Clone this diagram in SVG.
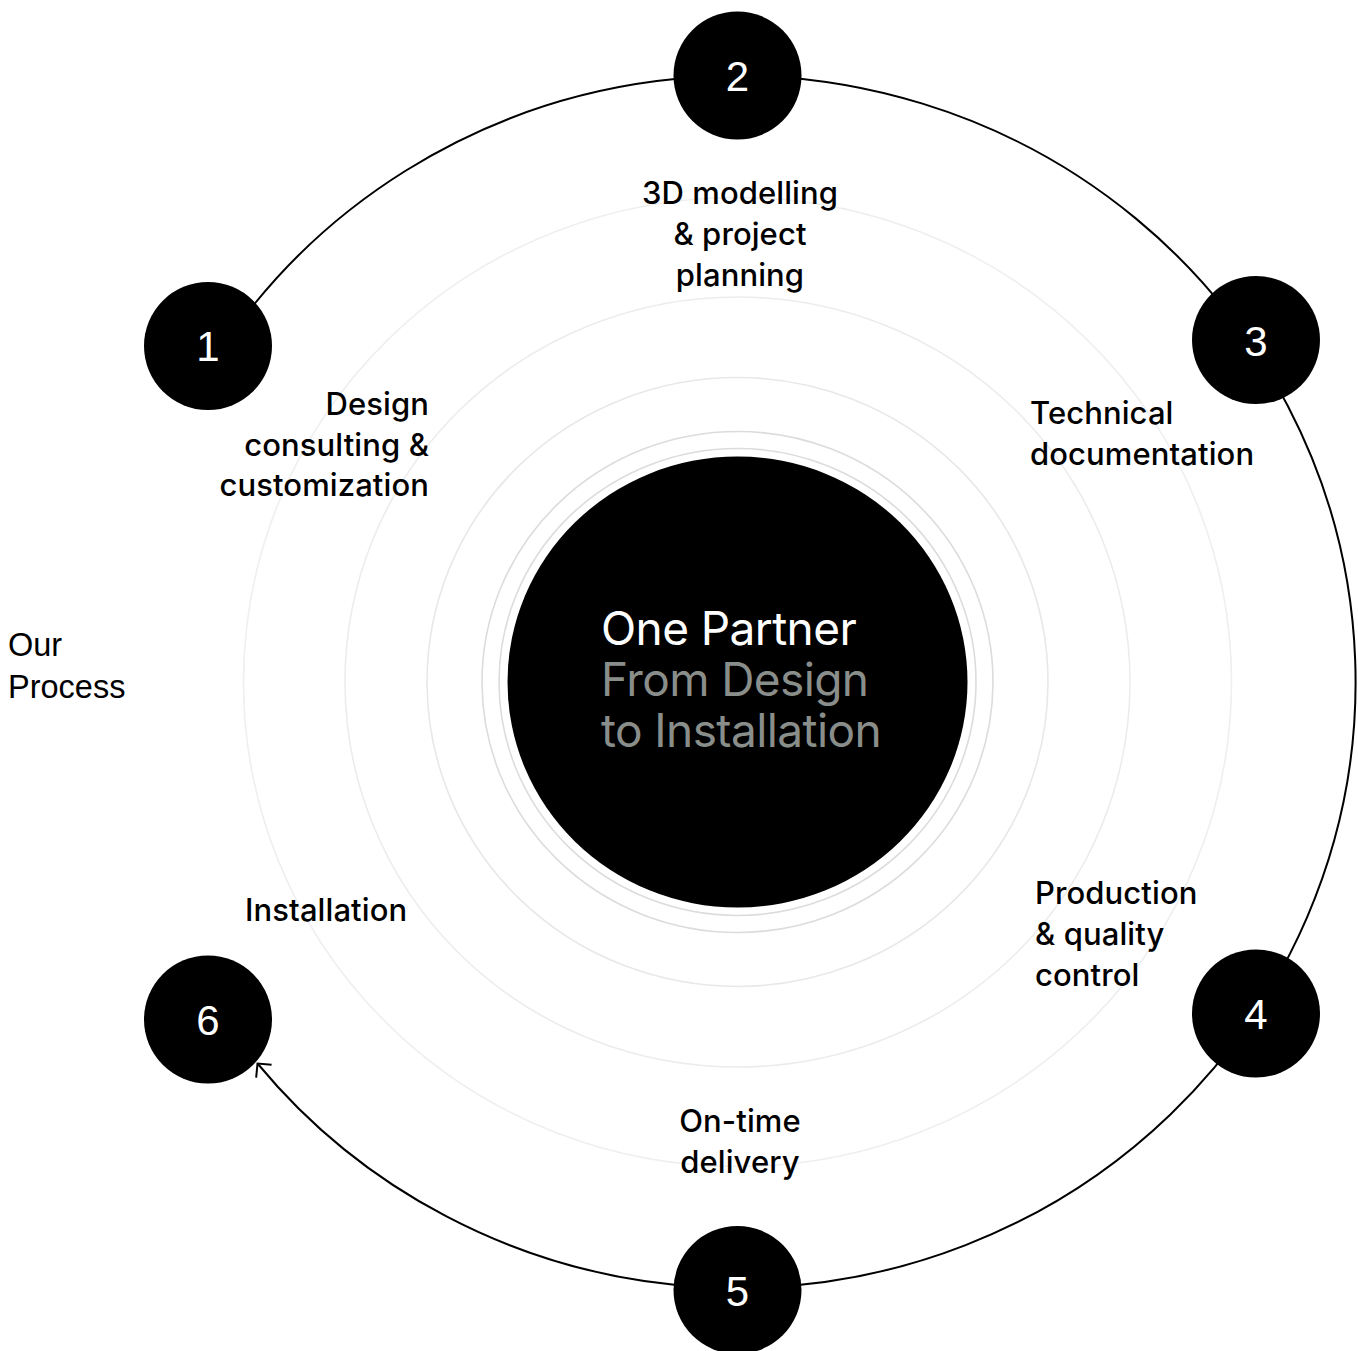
<svg xmlns="http://www.w3.org/2000/svg" width="1358" height="1351" viewBox="0 0 1358 1351">
  <style>
    .ring { fill: none; stroke-width: 1.6; }
    .node { fill: #000; }
    .num { font-family: "Liberation Sans", Arial, sans-serif; font-size: 42px; fill: #fff; text-anchor: middle; }
    .lbl { font-family: Inter, "Noto Sans", sans-serif; font-size: 31px; font-weight: 500; fill: #000; letter-spacing: 0.1px; }
    .hub { font-family: Inter, "Noto Sans", sans-serif; font-size: 46px; letter-spacing: -0.6px; }
    .side { font-family: "Liberation Sans", Arial, sans-serif; font-size: 32.5px; fill: #000; }
  </style>
  <defs>
    <marker id="arrow" markerUnits="userSpaceOnUse" markerWidth="30" markerHeight="30" viewBox="-15 -15 30 30" refX="0" refY="0" orient="auto">
      <path d="M -10 -10 L 0 0 L -10 10" fill="none" stroke="#000" stroke-width="2"/>
    </marker>
  </defs>
  <rect width="1358" height="1351" fill="#fff"/>

  <g id="rings">
    <ellipse class="ring" cx="737.5" cy="682" rx="494" ry="484.5" stroke="#efefef"/>
    <ellipse class="ring" cx="737.5" cy="682" rx="392.5" ry="385" stroke="#ececec"/>
    <ellipse class="ring" cx="737.5" cy="682" rx="310.5" ry="304.5" stroke="#e8e8e8"/>
    <ellipse class="ring" cx="737.5" cy="682" rx="255.5" ry="250.5" stroke="#dcdcdc"/>
    <ellipse class="ring" cx="737.5" cy="682" rx="238.5" ry="233.5" stroke="#dcdcdc"/>
  </g>

  <g id="connectors">
    <path d="M 230 336.2 A 618 606 0 1 1 257.5 1063.5" fill="none" stroke="#000" stroke-width="2" marker-end="url(#arrow)"/>
  </g>

  <g id="hub">
    <ellipse cx="737.5" cy="682" rx="230" ry="225.5" fill="#000"/>
    <text class="hub" x="601" y="645" fill="#ffffff">One Partner</text>
    <text class="hub" x="601" y="696" fill="#8a8e8b">From Design</text>
    <text class="hub" x="601" y="747" fill="#8a8e8b">to Installation</text>
  </g>

  <g id="node1">
    <circle class="node" cx="208" cy="346" r="64"/>
    <text class="num" x="208" y="361">1</text>
    <text class="lbl" text-anchor="end"><tspan x="429" y="415">Design</tspan><tspan x="429" y="456">consulting &amp;</tspan><tspan x="429" y="496">customization</tspan></text>
  </g>

  <g id="node2">
    <circle class="node" cx="737.5" cy="75.5" r="64"/>
    <text class="num" x="737.5" y="91">2</text>
    <text class="lbl" text-anchor="middle"><tspan x="740" y="204">3D modelling</tspan><tspan x="740" y="245">&amp; project</tspan><tspan x="740" y="286">planning</tspan></text>
  </g>

  <g id="node3">
    <circle class="node" cx="1256" cy="340" r="64"/>
    <text class="num" x="1256" y="356">3</text>
    <text class="lbl"><tspan x="1030" y="424">Technical</tspan><tspan x="1030" y="465">documentation</tspan></text>
  </g>

  <g id="node4">
    <circle class="node" cx="1256" cy="1013.5" r="64"/>
    <text class="num" x="1256" y="1029">4</text>
    <text class="lbl"><tspan x="1035" y="904">Production</tspan><tspan x="1035" y="945">&amp; quality</tspan><tspan x="1035" y="986">control</tspan></text>
  </g>

  <g id="node5">
    <circle class="node" cx="737.5" cy="1290" r="64"/>
    <text class="num" x="737.5" y="1306">5</text>
    <text class="lbl" text-anchor="middle"><tspan x="740" y="1132">On-time</tspan><tspan x="740" y="1173">delivery</tspan></text>
  </g>

  <g id="node6">
    <circle class="node" cx="208" cy="1019.5" r="64"/>
    <text class="num" x="208" y="1035">6</text>
    <text class="lbl" x="245" y="921">Installation</text>
  </g>

  <g id="title">
    <text class="side"><tspan x="8" y="656">Our</tspan><tspan x="8" y="698">Process</tspan></text>
  </g>
</svg>
